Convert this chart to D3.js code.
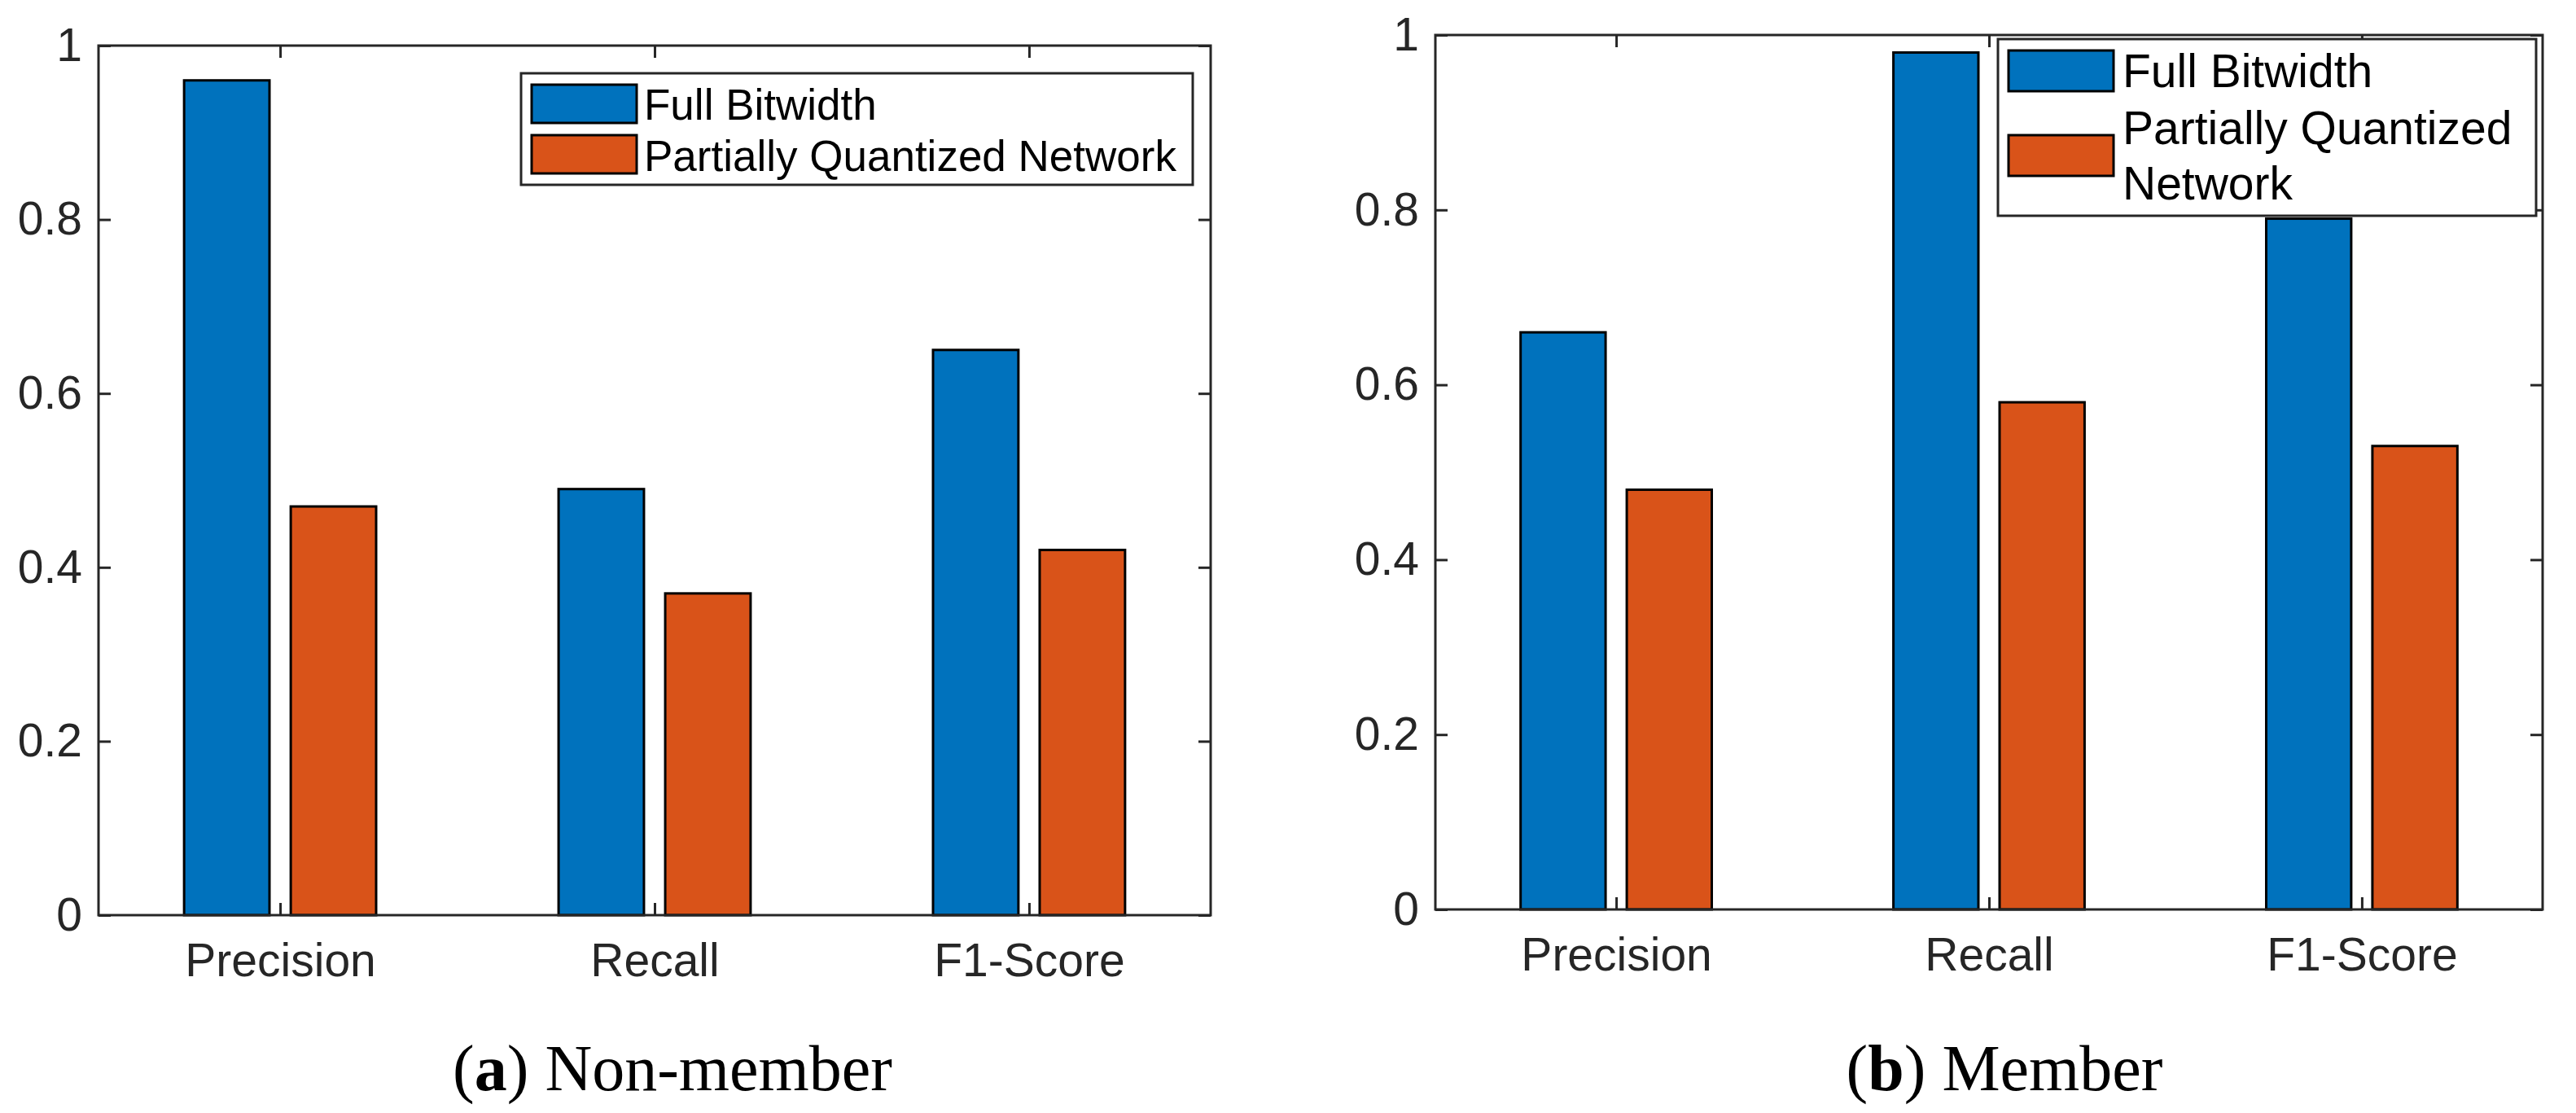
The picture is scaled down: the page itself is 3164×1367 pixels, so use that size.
<!DOCTYPE html>
<html>
<head>
<meta charset="utf-8">
<script src="https://cdn.jsdelivr.net/npm/d3@7"></script>
<style>
  body { margin: 0; background: #fff; }
  text { font-family: "Liberation Sans", Arial, sans-serif; }
</style>
</head>
<body>
<div id="chart"></div>
<script>
const categories = ["Precision", "Recall", "F1-Score"];
const seriesNames = ["Full Bitwidth", "Partially Quantized Network"];
const seriesColors = ["#0072BD", "#D95319"];

const nonMemberFull = [0.96, 0.49, 0.65];
const nonMemberPartial = [0.47, 0.37, 0.42];
const memberFull = [0.66, 0.98, 0.79];
const memberPartial = [0.48, 0.58, 0.53];

const yTicks = [0, 0.2, 0.4, 0.6, 0.8, 1];
const yTickLabels = ["0", "0.2", "0.4", "0.6", "0.8", "1"];

const AXIS_COLOR = "#262626";
const TICK_LEN = 15;
const BAR_OFFSET = 0.1424;
const BAR_WIDTH = 0.228;

const svg = d3.select("#chart")
    .append("svg")
    .attr("width", 3164)
    .attr("height", 1367);

svg.append("rect").attr("width", 3164).attr("height", 1367).attr("fill", "#fff");

function drawPanel(p) {
    const x = d3.scaleLinear().domain([0.515, 3.485]).range([p.left, p.right]);
    const y = d3.scaleLinear().domain([0, 1]).range([p.bottom, p.top]);
    const g = svg.append("g");

    const rows = categories.map((c, i) => ({cat: c, pos: i + 1, vals: [p.full[i], p.partial[i]]}));

    // bars
    rows.forEach(r => {
        g.selectAll(null)
            .data(r.vals)
            .enter()
            .append("rect")
            .attr("x", (d, s) => x(r.pos + (s === 0 ? -BAR_OFFSET : BAR_OFFSET) - BAR_WIDTH / 2))
            .attr("width", x(BAR_WIDTH) - x(0))
            .attr("y", d => y(d))
            .attr("height", d => y(0) - y(d))
            .attr("fill", (d, s) => seriesColors[s])
            .attr("stroke", "#000")
            .attr("stroke-width", 3);
    });

    // axes with inward ticks
    const fmt = d => yTickLabels[yTicks.indexOf(d)];
    const styleAxis = sel => {
        sel.select(".domain").remove();
        sel.selectAll("line").attr("stroke", AXIS_COLOR).attr("stroke-width", 3);
        sel.selectAll("text").attr("fill", AXIS_COLOR).attr("font-size", 57);
    };

    g.append("g").attr("transform", `translate(${p.left},0)`)
        .call(d3.axisLeft(y).tickValues(yTicks).tickFormat(fmt).tickSizeInner(-TICK_LEN).tickSizeOuter(0).tickPadding(20))
        .call(styleAxis);
    g.append("g").attr("transform", `translate(${p.right},0)`)
        .call(d3.axisRight(y).tickValues(yTicks).tickFormat("").tickSizeInner(-TICK_LEN).tickSizeOuter(0))
        .call(styleAxis);
    g.append("g").attr("transform", `translate(0,${p.bottom})`)
        .call(d3.axisBottom(x).tickValues([1, 2, 3]).tickFormat(d => categories[d - 1]).tickSizeInner(-TICK_LEN).tickSizeOuter(0).tickPadding(35))
        .call(styleAxis);
    g.append("g").attr("transform", `translate(0,${p.top})`)
        .call(d3.axisTop(x).tickValues([1, 2, 3]).tickFormat("").tickSizeInner(-TICK_LEN).tickSizeOuter(0))
        .call(styleAxis);

    g.append("rect")
        .attr("x", p.left).attr("y", p.top)
        .attr("width", p.right - p.left).attr("height", p.bottom - p.top)
        .attr("fill", "none").attr("stroke", AXIS_COLOR).attr("stroke-width", 3);

    // legend
    const L = p.legend;
    const lg = g.append("g");
    lg.append("rect")
        .attr("x", L.x).attr("y", L.y).attr("width", L.w).attr("height", L.h)
        .attr("fill", "#fff").attr("stroke", AXIS_COLOR).attr("stroke-width", 3);
    const items = lg.selectAll("g.item").data(seriesNames).enter().append("g");
    items.append("rect")
        .attr("x", L.x + 13).attr("y", (d, i) => L.swatchY[i])
        .attr("width", 129).attr("height", L.swatchH)
        .attr("fill", (d, i) => seriesColors[i])
        .attr("stroke", "#000").attr("stroke-width", 3);
    items.each(function(d, i) {
        const t = d3.select(this).append("text")
            .attr("font-size", L.fontSize)
            .attr("fill", "#000");
        L.lines[i].forEach((line, k) => {
            t.append("tspan").attr("x", L.textX).attr("y", L.baselines[i][k]).text(line);
        });
    });

    // caption
    const cap = svg.append("text")
        .attr("x", p.captionX).attr("y", 1339)
        .attr("text-anchor", "middle")
        .attr("font-size", 80)
        .style("font-family", "'Liberation Serif', 'Times New Roman', serif")
        .attr("fill", "#000");
    cap.append("tspan").text("(");
    cap.append("tspan").attr("font-weight", "bold").text(p.letter);
    cap.append("tspan").text(") " + p.caption);
}

drawPanel({
    left: 121, right: 1487, top: 56, bottom: 1124,
    full: nonMemberFull, partial: nonMemberPartial,
    letter: "a", caption: "Non-member", captionX: 826,
    legend: {
        x: 640, y: 90, w: 825, h: 137, textX: 791, fontSize: 53,
        swatchY: [104, 166], swatchH: 47,
        lines: [[seriesNames[0]], [seriesNames[1]]],
        baselines: [[147], [210]]
    }
});

drawPanel({
    left: 1763, right: 3123, top: 43, bottom: 1117,
    full: memberFull, partial: memberPartial,
    letter: "b", caption: "Member", captionX: 2462,
    legend: {
        x: 2454, y: 48, w: 661, h: 217, textX: 2607, fontSize: 57,
        swatchY: [62, 166], swatchH: 50,
        lines: [[seriesNames[0]], ["Partially Quantized", "Network"]],
        baselines: [[107], [177, 245]]
    }
});
</script>
</body>
</html>
